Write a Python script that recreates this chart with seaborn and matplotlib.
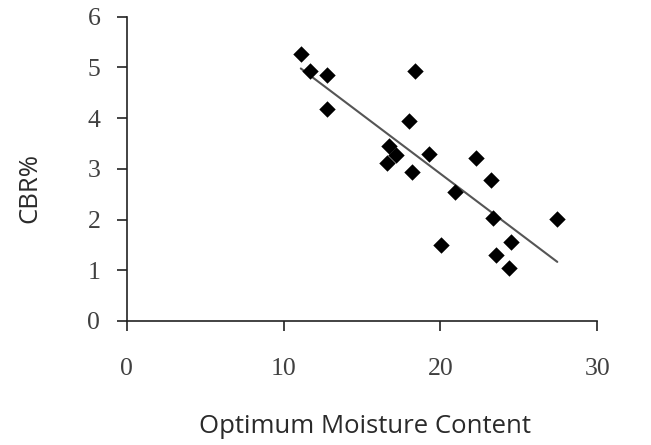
import matplotlib
matplotlib.use("Agg")
import matplotlib.pyplot as plt
import seaborn as sns
import pandas as pd

# Data
moisture = [11.1, 11.7, 12.75, 12.8, 18.4, 18.0, 16.75, 17.15, 16.6, 19.3,
            18.2, 22.25, 23.2, 20.95, 23.35, 27.45, 20.05, 24.5, 23.55, 24.4]
cbr = [5.26, 4.93, 4.85, 4.18, 4.93, 3.95, 3.45, 3.27, 3.12, 3.29,
       2.94, 3.21, 2.78, 2.54, 2.04, 2.02, 1.49, 1.56, 1.30, 1.04]
x_ticks = [0, 10, 20, 30]
y_ticks = [0, 1, 2, 3, 4, 5, 6]

df = pd.DataFrame({"Optimum Moisture Content": moisture, "CBR%": cbr})

sns.set_style("ticks")
plt.rcParams["font.family"] = ["Open Sans", "DejaVu Sans"]

fig = plt.figure(figsize=(6.51, 4.45), dpi=100)
ax = fig.add_axes([0.1946, 0.2787, 0.7229, 0.6838])

sns.regplot(data=df, x="Optimum Moisture Content", y="CBR%", ax=ax, ci=None,
            marker="D", truncate=True,
            scatter_kws=dict(s=70, color="black", alpha=1, linewidths=0, zorder=3),
            line_kws=dict(color="#555555", linewidth=1.5, zorder=2))

ax.set_xlim(0, 30)
ax.set_ylim(0, 6)
ax.set_xticks(x_ticks)
ax.set_yticks(y_ticks)

for s in ["top", "right"]:
    ax.spines[s].set_visible(False)
for s in ["left", "bottom"]:
    ax.spines[s].set_color("#222222")
    ax.spines[s].set_linewidth(1.2)

ax.tick_params(axis="both", direction="out", length=7, width=1.2, color="#222222",
               labelcolor="#404040")
ax.tick_params(axis="x", pad=20)
ax.tick_params(axis="y", pad=12)
for lab in ax.get_xticklabels() + ax.get_yticklabels():
    lab.set_fontfamily("Liberation Serif")
    lab.set_fontsize(18.5)

ax.set_xlabel("Optimum Moisture Content", fontsize=18.5, color="#2a2a2a")
ax.set_ylabel("CBR%", fontsize=18.5, color="#2a2a2a")
ax.xaxis.set_label_coords(0.506, -0.305)
ax.yaxis.set_label_coords(-0.18, 0.437)

fig.savefig("out.png", dpi=100)
